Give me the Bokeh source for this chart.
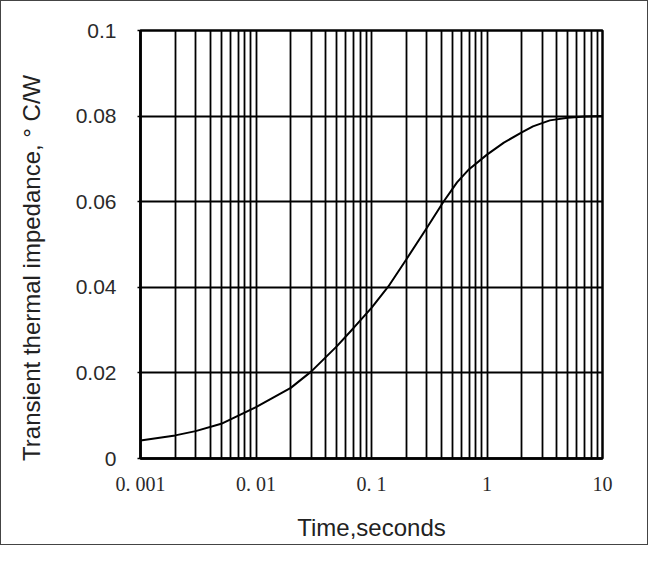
from bokeh.plotting import figure
from bokeh.models import FixedTicker, Range1d
from bokeh.embed import file_html
from bokeh.resources import INLINE

# Data
time_s = [0.001, 0.002, 0.003, 0.005, 0.01, 0.02, 0.03, 0.05, 0.07, 0.1, 0.14, 0.2,
          0.3, 0.42, 0.55, 0.7, 1, 1.4, 2, 2.5, 3.5, 5, 7, 10]
impedance = [0.0042, 0.0054, 0.0064, 0.0081, 0.0120, 0.0165, 0.0203, 0.0262, 0.0305,
             0.0352, 0.0402, 0.0465, 0.0538, 0.0600, 0.0645, 0.0676, 0.0710, 0.0738,
             0.0762, 0.0776, 0.0790, 0.0796, 0.0799, 0.0800]

x_ticks = [0.001, 0.01, 0.1, 1, 10]
x_tick_labels = ["0. 001", "0. 01", "0. 1", "1", "10"]
x_minor = [m * d for d in [0.001, 0.01, 0.1, 1] for m in range(2, 10)]
y_ticks = [0, 0.02, 0.04, 0.06, 0.08, 0.1]
y_tick_labels = ["0", "0.02", "0.04", "0.06", "0.08", "0.1"]

p = figure(frame_width=462, frame_height=428, x_axis_type="log", output_backend="svg",
           toolbar_location=None,
           x_range=Range1d(0.001, 10), y_range=Range1d(0, 0.1),
           min_border_left=139, min_border_right=45,
           min_border_top=29, min_border_bottom=86)
p.styles = {"border": "1px solid #444"}

p.line(time_s, impedance, line_color="black", line_width=2)

p.outline_line_color = "black"
p.outline_line_width = 2.5

p.xaxis.ticker = FixedTicker(ticks=x_ticks, minor_ticks=x_minor)
p.xaxis.major_label_overrides = dict(zip(x_ticks, x_tick_labels))
p.yaxis.ticker = FixedTicker(ticks=y_ticks)
p.yaxis.major_label_overrides = dict(zip(y_ticks, y_tick_labels))

for ax in (p.xaxis[0], p.yaxis[0]):
    ax.axis_line_color = "black"
    ax.axis_line_width = 2.5
    ax.minor_tick_line_color = None
    ax.axis_label_text_font_style = "normal"
    ax.axis_label_text_color = "#222"
    ax.major_label_text_color = "#2a2a2a"

p.xaxis.major_tick_line_color = None
p.xaxis.major_label_text_font = "Liberation Serif"
p.xaxis.major_label_text_font_size = "20px"
p.xaxis.major_label_standoff = 8
p.xaxis.axis_label = "Time,seconds"
p.xaxis.axis_label_text_font = "Liberation Sans"
p.xaxis.axis_label_text_font_size = "24px"
p.xaxis.axis_label_standoff = 16

p.yaxis.major_tick_line_color = "black"
p.yaxis.major_tick_line_width = 1.5
p.yaxis.major_tick_in = 0
p.yaxis.major_tick_out = 3
p.yaxis.major_label_standoff = 21
p.yaxis.major_label_text_font = "Liberation Sans"
p.yaxis.major_label_text_font_size = "21px"
p.yaxis.axis_label = "Transient thermal impedance, °  C/W\u00a0\u00a0\u00a0\u00a0\u00a0\u00a0"
p.yaxis.axis_label_text_font = "Liberation Sans"
p.yaxis.axis_label_text_font_size = "24px"
p.yaxis.axis_label_standoff = 28

p.xgrid.grid_line_color = "black"
p.xgrid.grid_line_width = 1.8
p.xgrid.minor_grid_line_color = "black"
p.xgrid.minor_grid_line_width = 1.8
p.ygrid.grid_line_color = "black"
p.ygrid.grid_line_width = 1.8

open("out.html", "w").write(file_html(p, INLINE))
